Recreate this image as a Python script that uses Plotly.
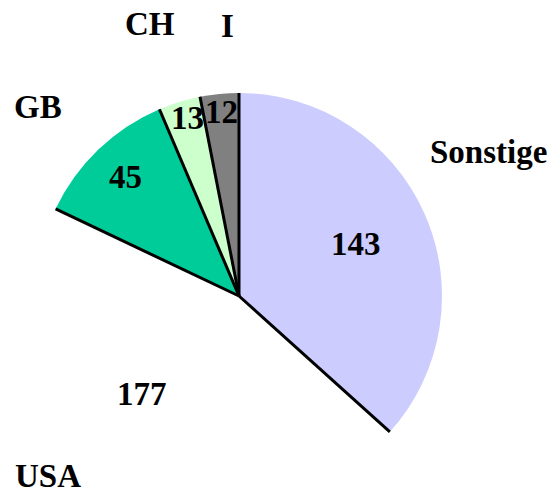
import math
import plotly.graph_objects as go

# ---- data ----
labels = ["Sonstige", "USA", "GB", "CH", "I"]
values = [143, 177, 45, 13, 12]
colors = ["#CCCCFF", "rgba(255,255,255,0)", "#00CC99", "#CCFFCC", "#808080"]

# ---- layout geometry (pixels) ----
W, H = 554, 499
cx_px, top_px, R_px = 239, 93, 203
cy_px = top_px + R_px

def px2paper(x, y):
    return x / W, 1 - y / H

dom_x = [(cx_px - R_px) / W, (cx_px + R_px) / W]
dom_y = [0, 1 - top_px / H]

fig = go.Figure()
fig.add_trace(go.Pie(
    labels=labels, values=values, sort=False, direction="clockwise", rotation=0,
    marker=dict(colors=colors, line=dict(width=0)),
    textinfo="none", hoverinfo="label+value", showlegend=False,
    domain=dict(x=dom_x, y=dom_y),
))

total = sum(values)
bounds = [0]
for v in values:
    bounds.append(bounds[-1] + v / total * 360)

shapes = []
for a in bounds[:-1]:
    t = math.radians(a)
    x1 = cx_px + R_px * math.sin(t)
    y1 = cy_px - R_px * math.cos(t)
    p0 = px2paper(cx_px, cy_px)
    p1 = px2paper(x1, y1)
    shapes.append(dict(type="line", xref="paper", yref="paper",
                       x0=p0[0], y0=p0[1], x1=p1[0], y1=p1[1],
                       line=dict(color="black", width=3)))

value_r = [0.63, 0.68, 0.81, 0.91, 0.91]
value_nudge = [0, 11, 0, 1, 0]
label_r = [1.42, 1.29, 1.36, 1.41, 1.33]
label_nudge = [-6, 13, -3, -1, 3]
font = dict(family="Liberation Serif", size=33, color="black", weight="bold")

annotations = []
for i, (lab, v) in enumerate(zip(labels, values)):
    mid = (bounds[i] + bounds[i + 1]) / 2
    for txt, rf, nd in ((str(v), value_r[i], value_nudge[i]), (lab, label_r[i], label_nudge[i])):
        t = math.radians(mid + nd)
        x = cx_px + rf * R_px * math.sin(t)
        y = cy_px - rf * R_px * math.cos(t)
        px, py = px2paper(x, y)
        annotations.append(dict(text=txt, x=px, y=py, xref="paper", yref="paper",
                                xanchor="center", yanchor="middle", showarrow=False,
                                font=font))

fig.update_layout(
    width=W, height=H, margin=dict(l=0, r=0, t=0, b=0),
    paper_bgcolor="white", plot_bgcolor="white",
    shapes=shapes, annotations=annotations,
)
fig.write_html("out.html")
